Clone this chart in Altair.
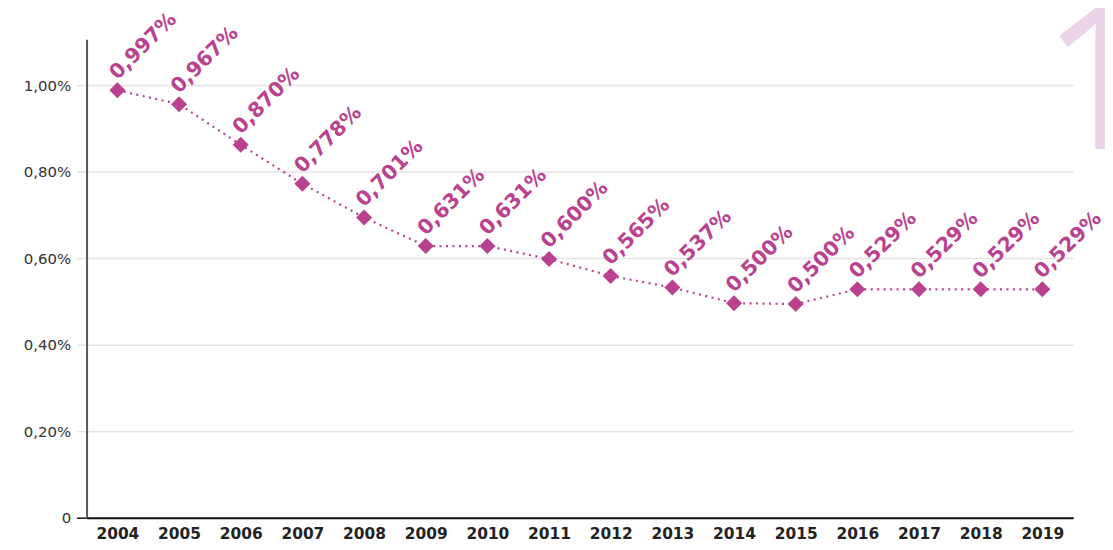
import altair as alt
import pandas as pd

years = [2004, 2005, 2006, 2007, 2008, 2009, 2010, 2011, 2012, 2013, 2014, 2015, 2016, 2017, 2018, 2019]
values = [0.988, 0.956, 0.862, 0.772, 0.694, 0.628, 0.628, 0.598, 0.559, 0.532, 0.496, 0.494, 0.528, 0.528, 0.528, 0.528]
labels = ["0,997%", "0,967%", "0,870%", "0,778%", "0,701%", "0,631%", "0,631%", "0,600%",
          "0,565%", "0,537%", "0,500%", "0,500%", "0,529%", "0,529%", "0,529%", "0,529%"]
y_ticks = [0, 0.2, 0.4, 0.6, 0.8, 1.0]

df = pd.DataFrame({"year": [str(y) for y in years], "value": values, "label": labels})
deco = pd.DataFrame({"t": ["1"]})

COLOR = "#b9418f"
FONT = "DejaVu Sans"

x_enc = alt.X("year:O", title=None,
              axis=alt.Axis(labelAngle=0, ticks=False, domainColor="#111", domainWidth=2,
                            labelFontWeight="bold", labelFontSize=15.5, labelPadding=9,
                            labelColor="#222", labelFont=FONT))
y_enc = alt.Y("value:Q", title=None,
              scale=alt.Scale(domain=[0, 1.106], nice=False, zero=True),
              axis=alt.Axis(values=y_ticks,
                            labelExpr="datum.value == 0 ? '0' : replace(format(datum.value, '.2f'), '.', ',') + '%'",
                            labelFontSize=15, labelColor="#333", labelFont=FONT, labelPadding=6,
                            tickSize=10, tickColor={"condition": {"test": "datum.value == 0", "value": "#111"}, "value": "#e3e3e3"},
                            tickWidth=1.5,
                            domainColor="#555", domainWidth=2,
                            grid=True, gridColor="#e3e3e3", gridWidth=1.5))

base = alt.Chart(df)

line = base.mark_line(color=COLOR, strokeWidth=2.2, strokeDash=[2, 4.5]).encode(x=x_enc, y=y_enc)
pts = base.mark_point(shape="diamond", filled=True, size=260, color=COLOR, opacity=1).encode(x=x_enc, y=y_enc)
txt = base.mark_text(angle=315, align="left", baseline="alphabetic", dx=7, dy=-7,
                     font=FONT, fontWeight="bold", fontSize=20.5, color=COLOR).encode(
    x=x_enc, y=y_enc, text="label:N")

one = alt.Chart(deco).mark_text(align="left", baseline="alphabetic", font="Open Sans",
                                fontSize=200, fontWeight="normal", color="#ecd4e8").encode(
    x=alt.value(960), y=alt.value(110), text="t:N")

chart = alt.layer(one, line, pts, txt).properties(
    width=992, height=481,
    autosize=alt.AutoSizeParams(type="none"),
    padding={"left": 79, "top": 30, "right": 32, "bottom": 30},
).configure_view(stroke=None)

chart.save("out.html", embed_options={"renderer": "svg", "actions": False})
